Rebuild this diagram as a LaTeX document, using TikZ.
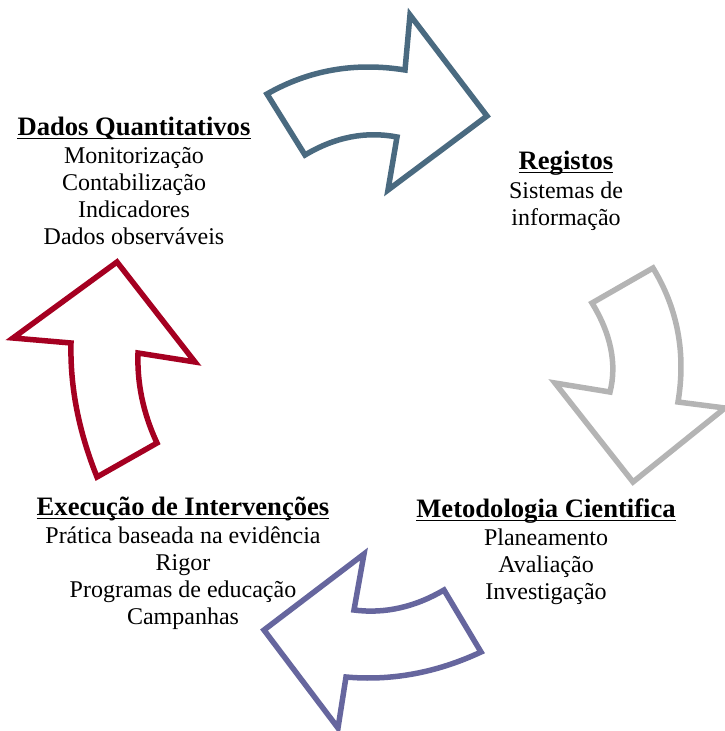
\documentclass[tikz,border=0pt]{standalone}
\usepackage{fontspec}
\setmainfont{Liberation Serif}
\begin{document}
\begin{tikzpicture}[x=1pt,y=-1pt,
  arrowshape/.style={line width=5.5pt, line join=miter, miter limit=10, fill=white},
  headtxt/.style={anchor=base, inner sep=0pt, font=\fontsize{26.6}{30}\selectfont\bfseries},
  linetxt/.style={anchor=base, inner sep=0pt, font=\fontsize{24}{27}\selectfont},
  uline/.style={line width=1.8pt}]
\definecolor{cblue}{RGB}{74,106,128}
\definecolor{cgray}{RGB}{180,180,180}
\definecolor{cpurple}{RGB}{102,102,158}
\definecolor{cred}{RGB}{165,0,33}
\useasboundingbox (0,0) rectangle (725,731);

% top arrow
\draw[arrowshape, draw=cblue] (267,94) .. controls (309,70) and (355,62) .. (405,70)
  -- (410,15) -- (487,116) -- (388,190) -- (397,137)
  .. controls (366,131) and (335,137) .. (305,155) -- cycle;
% right arrow
\draw[arrowshape, draw=cgray] (592,303) -- (653,268)
  .. controls (678,309) and (686,354) .. (678,402) -- (725,408) -- (633,482) -- (555,383) -- (610,392)
  .. controls (617,364) and (611,334) .. cycle;
% bottom arrow
\draw[arrowshape, draw=cpurple] (444,590) -- (481,652)
  .. controls (436,673) and (391,681) .. (346,677) -- (338,728) -- (264,630) -- (364,554) -- (354,610)
  .. controls (385,614) and (415,607) .. cycle;
% left arrow
\draw[arrowshape, draw=cred] (97,477) -- (157,443)
  .. controls (143,413) and (137,383) .. (138,353) -- (195,362) -- (117,262) -- (13,338) -- (71,343)
  .. controls (70,388) and (79,432) .. cycle;

% Dados Quantitativos
\node[headtxt] (h1) at (134,135) {Dados Quantitativos};
\draw[uline] ([yshift=-3.5pt]h1.base west) -- ([yshift=-3.5pt]h1.base east);
\node[linetxt] (a1) at (134,163) {Monitorização};
\node[linetxt] (a2) at (134,190) {Contabilização};
\node[linetxt] (a3) at (134,217) {Indicadores};
\node[linetxt] (a4) at (134,244) {Dados observáveis};

% Registos
\node[headtxt] (h2) at (566,169) {Registos};
\draw[uline] ([yshift=-3.5pt]h2.base west) -- ([yshift=-3.5pt]h2.base east);
\node[linetxt] (b1) at (566,198) {Sistemas de};
\node[linetxt] (b2) at (566,225) {informação};

% Metodologia Cientifica
\node[headtxt] (h3) at (546,517) {Metodologia Cientifica};
\draw[uline] ([yshift=-3.5pt]h3.base west) -- ([yshift=-3.5pt]h3.base east);
\node[linetxt] (c1) at (546,545) {Planeamento};
\node[linetxt] (c2) at (546,572) {Avaliação};
\node[linetxt] (c3) at (546,599) {Investigação};

% Execucao de Intervencoes
\node[headtxt] (h4) at (183,515) {Execução de Intervenções};
\draw[uline] ([yshift=-3.5pt]h4.base west) -- ([yshift=-3.5pt]h4.base east);
\node[linetxt] (d1) at (183,543) {Prática baseada na evidência};
\node[linetxt] (d2) at (183,570) {Rigor};
\node[linetxt] (d3) at (183,597) {Programas de educação};
\node[linetxt] (d4) at (183,624) {Campanhas};
\end{tikzpicture}
\end{document}
